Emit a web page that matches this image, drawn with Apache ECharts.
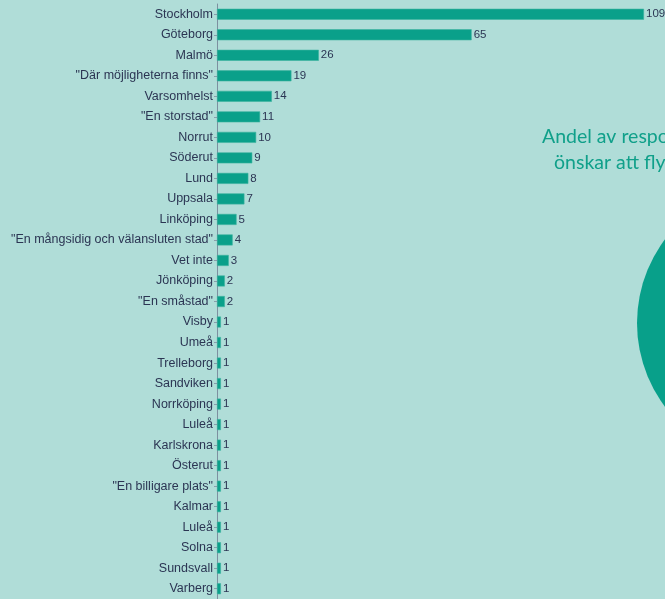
<!DOCTYPE html>
<html>
<head>
<meta charset="utf-8">
<script src="https://cdn.jsdelivr.net/npm/echarts@6/dist/echarts.min.js"></script>
<style>
html,body{margin:0;padding:0;background:#b0ddd8;}
#c{width:665px;height:599px;}
</style>
</head>
<body>
<div id="c"></div>
<script>
const categories = ["Stockholm","Göteborg","Malmö","\"Där möjligheterna finns\"","Varsomhelst","\"En storstad\"","Norrut","Söderut","Lund","Uppsala","Linköping","\"En mångsidig och välansluten stad\"","Vet inte","Jönköping","\"En småstad\"","Visby","Umeå","Trelleborg","Sandviken","Norrköping","Luleå","Karlskrona","Österut","\"En billigare plats\"","Kalmar","Luleå","Solna","Sundsvall","Varberg"];
const values = [109,65,26,19,14,11,10,9,8,7,5,4,3,2,2,1,1,1,1,1,1,1,1,1,1,1,1,1,1];
const sideTitleLines = ["Andel av respondenter som", "önskar att flytta"];

const chart = echarts.init(document.getElementById('c'), null, {renderer:'canvas'});
chart.setOption({
  backgroundColor:'#b0ddd8',
  animation:false,
  grid:{left:217, right:21, top:4, height:596, containLabel:false},
  xAxis:{type:'value', min:0, max:109, show:false},
  yAxis:{
    type:'category', data:categories, inverse:true,
    axisLine:{show:true, lineStyle:{color:'#7d8fa0', width:1}},
    axisTick:{show:true, length:3, alignWithLabel:true, lineStyle:{color:'#8a9cab'}},
    axisLabel:{color:'#2b3553', fontFamily:'Liberation Sans', fontSize:12.5, margin:4, interval:0}
  },
  series:[{
    type:'bar', data:values, barWidth:11,
    itemStyle:{color:'#0aa08a', borderColor:'#3db3a0', borderWidth:0.6},
    label:{show:true, position:'right', distance:2, color:'#2b3553', fontFamily:'Liberation Sans', fontSize:11.5}
  }],
  graphic:[
    {type:'circle', shape:{cx:776, cy:323, r:139}, style:{fill:'#08a08a'}, silent:true},
    {type:'text', left:542, top:127, style:{text:sideTitleLines[0], fill:'#10a08a', font:'19.5px Lato'}},
    {type:'text', left:554, top:153, style:{text:sideTitleLines[1], fill:'#10a08a', font:'19.5px Lato'}}
  ]
});
</script>
</body>
</html>
